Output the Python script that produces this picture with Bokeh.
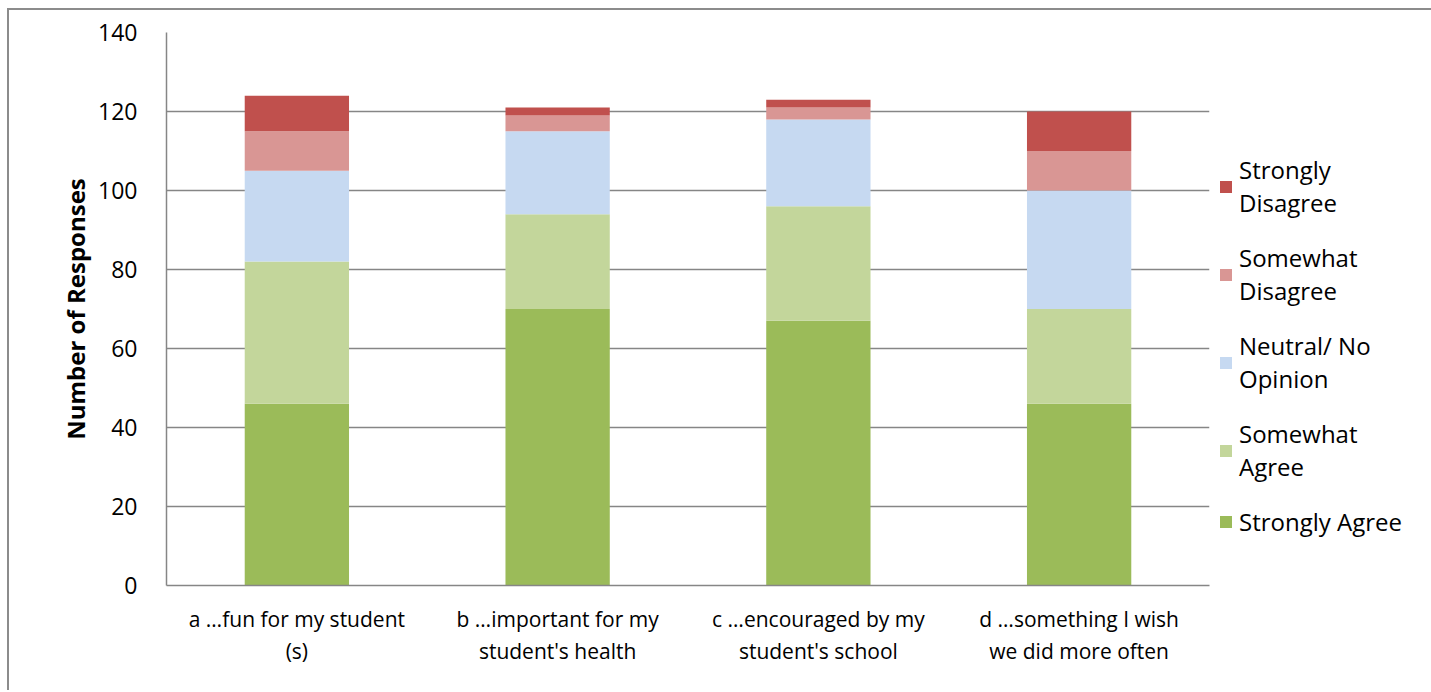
from bokeh.plotting import figure
from bokeh.models import Range1d, FactorRange, SingleIntervalTicker, Legend, LegendItem
from bokeh.embed import file_html
from bokeh.resources import INLINE

categories = ["a …fun for my student\n(s)", "b …important for my\nstudent's health",
              "c …encouraged by my\nstudent's school", "d …something I wish\nwe did more often"]
series = ["Strongly Agree", "Somewhat Agree", "Neutral/ No Opinion", "Somewhat Disagree", "Strongly Disagree"]
legend_labels = ["Strongly Agree", "Somewhat\nAgree", "Neutral/ No\nOpinion", "Somewhat\nDisagree", "Strongly\nDisagree"]
strongly_agree = [46, 70, 67, 46]
somewhat_agree = [36, 24, 29, 24]
neutral = [23, 21, 22, 30]
somewhat_disagree = [10, 4, 3, 10]
strongly_disagree = [9, 2, 2, 10]
colors = ["#9BBB59", "#C3D69B", "#C6D9F1", "#D99694", "#C0504D"]

FONT = "Open Sans"

data = {"cat": categories, series[0]: strongly_agree, series[1]: somewhat_agree,
        series[2]: neutral, series[3]: somewhat_disagree, series[4]: strongly_disagree}

p = figure(frame_width=1043, frame_height=553, x_range=FactorRange(*categories), y_range=Range1d(0, 140),
           output_backend="svg", toolbar_location=None,
           min_border_left=157, min_border_right=210, min_border_top=22, min_border_bottom=105,
           styles={"margin-left": "7px", "margin-top": "8px",
                   "border-left": "2px solid #8c8c8c", "border-top": "2px solid #8c8c8c",
                   "border-right": "2px solid #8c8c8c"})
p.outline_line_color = None
p.background_fill_color = "white"
p.border_fill_color = "white"

renderers = p.vbar_stack(series, x="cat", width=0.4, color=colors, source=data, line_color=None)

p.xgrid.grid_line_color = None
p.ygrid.grid_line_color = "#868686"
p.ygrid.grid_line_width = 1.5
p.yaxis.ticker = SingleIntervalTicker(interval=20)

for ax in (p.xaxis[0], p.yaxis[0]):
    ax.axis_line_color = "#868686"
    ax.axis_line_width = 1.5
    ax.major_tick_line_color = None
    ax.minor_tick_line_color = None
    ax.major_tick_out = 0
    ax.major_tick_in = 0
    ax.major_label_text_font = FONT
    ax.major_label_text_color = "black"

p.yaxis.major_label_text_font_size = "23px"
p.yaxis.major_label_standoff = 25
p.yaxis.axis_label = "Number of Responses"
p.yaxis.axis_label_text_font = FONT
p.yaxis.axis_label_text_font_size = "24px"
p.yaxis.axis_label_text_font_style = "bold"
p.yaxis.axis_label_text_color = "black"
p.yaxis.axis_label_standoff = 3

p.xaxis.major_label_text_font_size = "21px"
p.xaxis.major_label_standoff = 19
p.xaxis.major_label_text_line_height = 1.15

items = [LegendItem(label=legend_labels[i], renderers=[renderers[i]]) for i in range(4, -1, -1)]
legend = Legend(items=items, location=(9, 47), orientation="vertical",
                border_line_color=None, background_fill_alpha=0, padding=0, margin=0,
                spacing=22, glyph_width=15, glyph_height=15, label_standoff=6,
                label_text_font=FONT, label_text_font_size="24px", label_text_color="black",
                label_text_line_height=0.85)
p.add_layout(legend, "right")

open("out.html", "w").write(file_html(p, INLINE))
